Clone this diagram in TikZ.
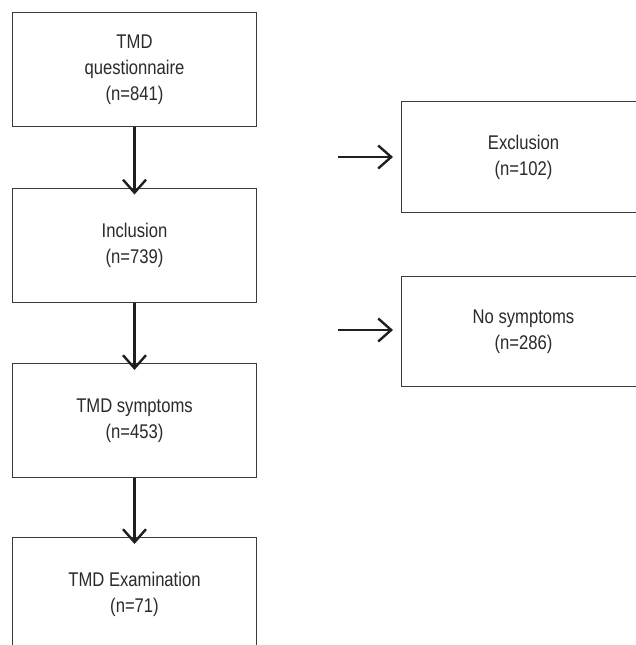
\documentclass[tikz,border=0pt]{standalone}
\usepackage{fontspec}
\setmainfont[FakeStretch=0.84]{Liberation Sans}
\usetikzlibrary{arrows.meta}
\definecolor{txt}{HTML}{2A2A2A}
\definecolor{edge}{HTML}{3A3A3A}
\tikzset{
  box/.style={draw=edge, line width=1pt, minimum width=244pt, minimum height=114pt,
    inner sep=0pt, align=center, text=txt, font=\fontsize{19.8}{26}\selectfont, anchor=north west},
  flow/.style={draw=black!88, line width=2.4pt,
    -{Straight Barb[length=13pt,width=23pt,line width=2.4pt]}},
}
\begin{document}
\begin{tikzpicture}[x=1pt,y=-1pt]
\useasboundingbox (0,0) rectangle (636,645);
\fill[white] (0,0) rectangle (636,645);
\clip (0,0) rectangle (636,645);
\node[box] (q) at (12,12) {TMD\\questionnaire\\(n=841)};
\node[box] (inc) at (12,187.5) {Inclusion\\(n=739)};
\node[box] (sym) at (12,363) {TMD symptoms\\(n=453)};
\node[box] (ex) at (12,537) {TMD Examination\\(n=71)};
\node[box, minimum height=111pt] (exc) at (401,101) {Exclusion\\(n=102)};
\node[box, minimum height=110pt] (nos) at (401,276) {No symptoms\\(n=286)};
\draw[flow] (q.south) -- ([yshift=-7pt]inc.north);
\draw[flow] (inc.south) -- ([yshift=-7pt]sym.north);
\draw[flow] (sym.south) -- ([yshift=-7pt]ex.north);
\coordinate (a1) at (338,157);
\coordinate (a2) at (338,330);
\draw[flow] (a1) -- ([xshift=-8pt]exc.west |- a1);
\draw[flow] (a2) -- ([xshift=-8pt]nos.west |- a2);
\end{tikzpicture}
\end{document}
